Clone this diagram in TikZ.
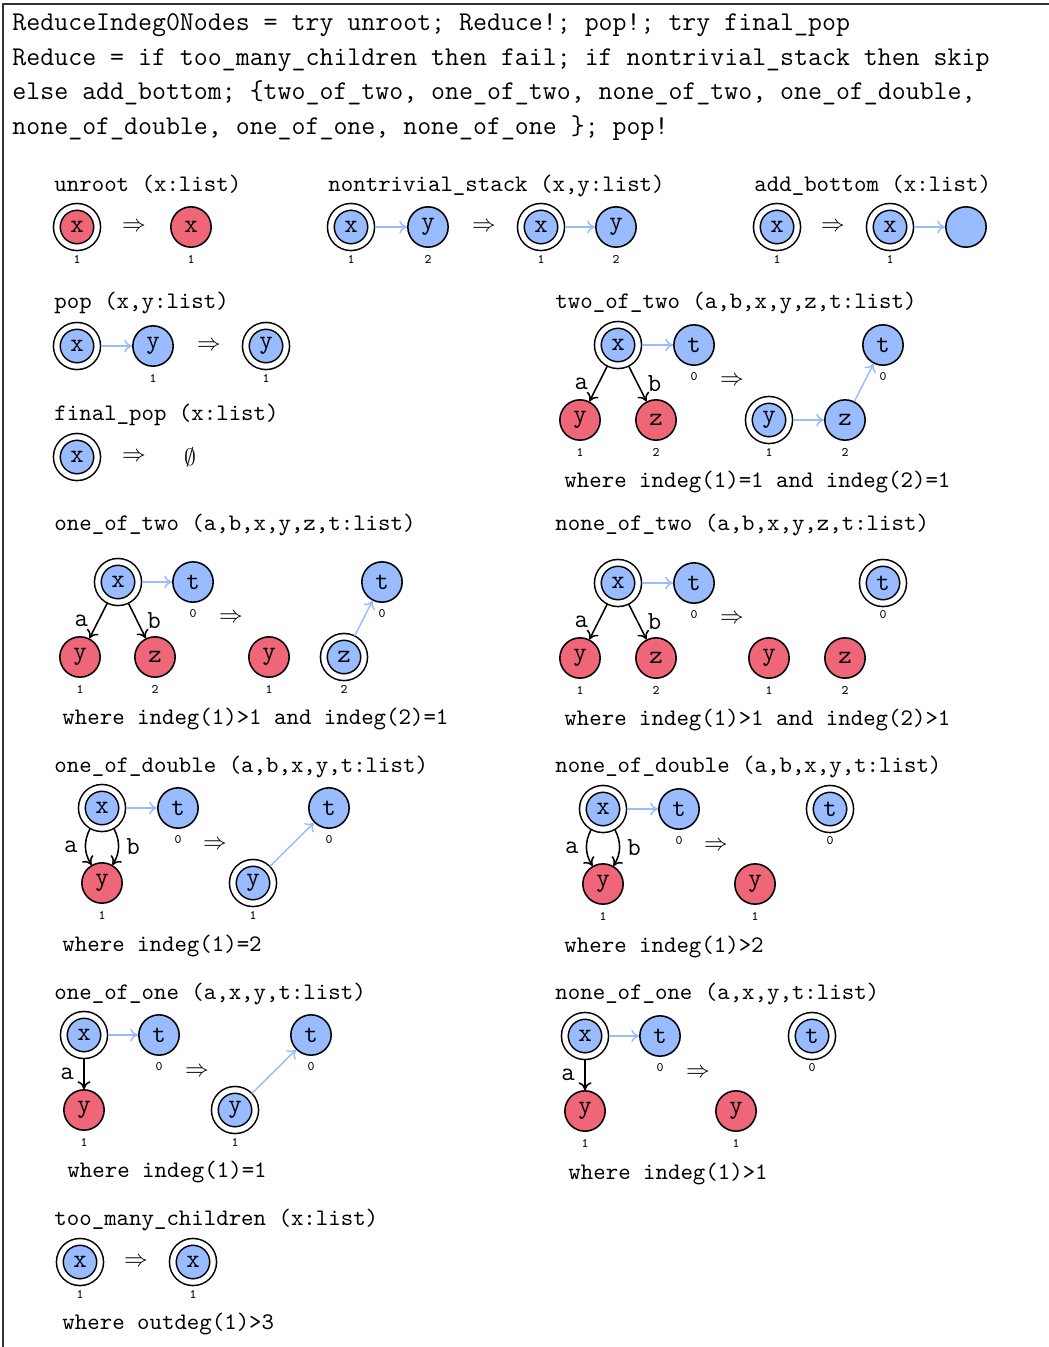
\documentclass[tikz,border=0pt]{standalone}
\usetikzlibrary{calc,arrows.meta}
\definecolor{nred}{RGB}{238,102,119}
\definecolor{nblue}{RGB}{153,187,255}
\frenchspacing
\tikzset{
 vx/.style={circle, draw=black, line width=0.65pt, minimum size=17pt, inner sep=0pt, font=\fontsize{11}{12}\selectfont\ttfamily},
 rd/.style={vx, fill=nred},
 bl/.style={vx, fill=nblue},
 dbl/.style={double=white, double distance=2.2pt, outer sep=1.5pt},
 idx/.style={font=\fontsize{5.5}{6}\selectfont\ttfamily, inner sep=0pt},
 ttl/.style={anchor=base west, inner sep=0pt, font=\fontsize{10}{12}\selectfont\ttfamily},
 toptxt/.style={anchor=base west, inner sep=0pt, font=\fontsize{11.43}{13}\selectfont\ttfamily},
 imp/.style={inner sep=0pt, font=\fontsize{10}{12}\selectfont},
 bedge/.style={-{To[length=3.3pt,width=5.5pt]}, draw=nblue, line width=0.6pt},
 kedge/.style={-{To[length=3.3pt,width=5.5pt]}, draw=black, line width=0.65pt},
 elab/.style={font=\fontsize{11}{12}\selectfont\ttfamily, inner sep=0pt},
}
\newcommand\idxlab[2]{\node[idx] (#1i) at ($(#1)+(0,32)$) {#2};}
\begin{document}
\begin{tikzpicture}[x=0.4217pt,y=-0.4217pt]
\useasboundingbox (0,0) rectangle (1049,1347);
\draw[black!80, line width=0.7pt] (3,1347) -- (3,4) -- (1049,4);

% top program text
\node[toptxt] (l1) at (12,30) {ReduceIndeg0Nodes = try unroot; Reduce!; pop!; try final\_pop};
\node[toptxt] (l2) at (12,65) {Reduce = if too\_many\_children then fail; if nontrivial\_stack then skip};
\node[toptxt] (l3) at (12,99.5) {else add\_bottom; \{two\_of\_two, one\_of\_two, none\_of\_two, one\_of\_double,};
\node[toptxt] (l4) at (12,134) {none\_of\_double, one\_of\_one, none\_of\_one \}; pop!};

% unroot
\node[ttl] (t1) at (54,191) {unroot (x:list)};
\node[rd,dbl] (u1) at (77,227) {x};
\node[imp] (u1a) at (134,227) {$\Rightarrow$};
\node[rd] (u2) at (191,227) {x};
\idxlab{u1}{1}\idxlab{u2}{1}

% nontrivial_stack
\node[ttl] (t2) at (328,191) {nontrivial\_stack (x,y:list)};
\node[bl,dbl] (n1) at (351,227) {x};
\node[bl] (n2) at (428,227) {y};
\draw[bedge] (n1) -- (n2);
\node[imp] (n2a) at (484,227) {$\Rightarrow$};
\node[bl,dbl] (n3) at (541,227) {x};
\node[bl] (n4) at (616,227) {y};
\draw[bedge] (n3) -- (n4);
\idxlab{n1}{1}\idxlab{n2}{2}\idxlab{n3}{1}\idxlab{n4}{2}

% add_bottom
\node[ttl] (t3) at (754,191) {add\_bottom (x:list)};
\node[bl,dbl] (a1) at (777,227) {x};
\node[imp] (a1a) at (833,227) {$\Rightarrow$};
\node[bl,dbl] (a2) at (890,227) {x};
\node[bl] (a3) at (966,227) {};
\draw[bedge] (a2) -- (a3);
\idxlab{a1}{1}\idxlab{a2}{1}

% pop
\node[ttl] (t4) at (54,308) {pop (x,y:list)};
\node[bl,dbl] (p1) at (77,346) {x};
\node[bl] (p2) at (153,346) {y};
\draw[bedge] (p1) -- (p2);
\node[imp] (p2a) at (209,346) {$\Rightarrow$};
\node[bl,dbl] (p3) at (266,346) {y};
\idxlab{p2}{1}\idxlab{p3}{1}

% final_pop
\node[ttl] (t5) at (54,420) {final\_pop (x:list)};
\node[bl,dbl] (f1) at (77,457) {x};
\node[imp] (f1a) at (134,457) {$\Rightarrow$};
\node[imp] (f2) at (190,457) {$\emptyset$};

% two_of_two
\node[ttl] (t6) at (555,308) {two\_of\_two (a,b,x,y,z,t:list)};
\node[bl,dbl] (w1) at (618,345) {x};
\node[bl] (w2) at (694,345) {t};
\node[rd] (w3) at (580,420) {y};
\node[rd] (w4) at (656,420) {z};
\draw[bedge] (w1) -- (w2);
\draw[kedge] (w1) -- node[elab,midway,left=4pt] {a} (w3);
\draw[kedge] (w1) -- node[elab,midway,right=4pt] {b} (w4);
\node[imp] (w4a) at (732,381) {$\Rightarrow$};
\node[bl,dbl] (w5) at (769,420) {y};
\node[bl] (w6) at (845,420) {z};
\node[bl] (w7) at (883,345) {t};
\draw[bedge] (w5) -- (w6);
\draw[bedge] (w6) -- (w7);
\idxlab{w2}{0}\idxlab{w3}{1}\idxlab{w4}{2}\idxlab{w5}{1}\idxlab{w6}{2}\idxlab{w7}{0}
\node[ttl] (c6) at (564,487) {where indeg(1)=1 and indeg(2)=1};

% one_of_two
\node[ttl] (t7) at (54,530) {one\_of\_two (a,b,x,y,z,t:list)};
\node[bl,dbl] (o1) at (118,582) {x};
\node[bl] (o2) at (193,582) {t};
\node[rd] (o3) at (80,657) {y};
\node[rd] (o4) at (155,657) {z};
\draw[bedge] (o1) -- (o2);
\draw[kedge] (o1) -- node[elab,midway,left=4pt] {a} (o3);
\draw[kedge] (o1) -- node[elab,midway,right=4pt] {b} (o4);
\node[imp] (o4a) at (231,618) {$\Rightarrow$};
\node[rd] (o5) at (269,657) {y};
\node[bl,dbl] (o6) at (344,657) {z};
\node[bl] (o7) at (382,582) {t};
\draw[bedge] (o6) -- (o7);
\idxlab{o2}{0}\idxlab{o3}{1}\idxlab{o4}{2}\idxlab{o5}{1}\idxlab{o6}{2}\idxlab{o7}{0}
\node[ttl] (c7) at (62,724) {where indeg(1)>1 and indeg(2)=1};

% none_of_two
\node[ttl] (t8) at (555,530) {none\_of\_two (a,b,x,y,z,t:list)};
\node[bl,dbl] (m1) at (618,583) {x};
\node[bl] (m2) at (694,583) {t};
\node[rd] (m3) at (580,658) {y};
\node[rd] (m4) at (656,658) {z};
\draw[bedge] (m1) -- (m2);
\draw[kedge] (m1) -- node[elab,midway,left=4pt] {a} (m3);
\draw[kedge] (m1) -- node[elab,midway,right=4pt] {b} (m4);
\node[imp] (m4a) at (732,619) {$\Rightarrow$};
\node[rd] (m5) at (769,658) {y};
\node[rd] (m6) at (845,658) {z};
\node[bl,dbl] (m7) at (883,583) {t};
\idxlab{m2}{0}\idxlab{m3}{1}\idxlab{m4}{2}\idxlab{m5}{1}\idxlab{m6}{2}\idxlab{m7}{0}
\node[ttl] (c8) at (564,725) {where indeg(1)>1 and indeg(2)>1};

% one_of_double
\node[ttl] (t9) at (54,772) {one\_of\_double (a,b,x,y,t:list)};
\node[bl,dbl] (d1) at (102,808) {x};
\node[bl] (d2) at (178,808) {t};
\node[rd] (d3) at (102,883) {y};
\draw[bedge] (d1) -- (d2);
\draw[kedge] (d1) to[bend right=30] node[elab,midway,left=3pt] {a} (d3);
\draw[kedge] (d1) to[bend left=30] node[elab,midway,right=3pt] {b} (d3);
\node[imp] (d3a) at (215,845) {$\Rightarrow$};
\node[bl,dbl] (d4) at (253,883) {y};
\node[bl] (d5) at (329,808) {t};
\draw[bedge] (d4) -- (d5);
\idxlab{d2}{0}\idxlab{d3}{1}\idxlab{d4}{1}\idxlab{d5}{0}
\node[ttl] (c9) at (62,951) {where indeg(1)=2};

% none_of_double
\node[ttl] (t10) at (555,772) {none\_of\_double (a,b,x,y,t:list)};
\node[bl,dbl] (e1) at (603,809) {x};
\node[bl] (e2) at (679,809) {t};
\node[rd] (e3) at (603,884) {y};
\draw[bedge] (e1) -- (e2);
\draw[kedge] (e1) to[bend right=30] node[elab,midway,left=3pt] {a} (e3);
\draw[kedge] (e1) to[bend left=30] node[elab,midway,right=3pt] {b} (e3);
\node[imp] (e3a) at (716,846) {$\Rightarrow$};
\node[rd] (e4) at (755,884) {y};
\node[bl,dbl] (e5) at (830,809) {t};
\idxlab{e2}{0}\idxlab{e3}{1}\idxlab{e4}{1}\idxlab{e5}{0}
\node[ttl] (c10) at (564,952) {where indeg(1)>2};

% one_of_one
\node[ttl] (t11) at (54,999) {one\_of\_one (a,x,y,t:list)};
\node[bl,dbl] (g1) at (84,1035) {x};
\node[bl] (g2) at (159,1035) {t};
\node[rd] (g3) at (84,1110) {y};
\draw[bedge] (g1) -- (g2);
\draw[kedge] (g1) -- node[elab,midway,left=4pt] {a} (g3);
\node[imp] (g3a) at (197,1072) {$\Rightarrow$};
\node[bl,dbl] (g4) at (235,1110) {y};
\node[bl] (g5) at (311,1035) {t};
\draw[bedge] (g4) -- (g5);
\idxlab{g2}{0}\idxlab{g3}{1}\idxlab{g4}{1}\idxlab{g5}{0}
\node[ttl] (c11) at (67,1177) {where indeg(1)=1};

% none_of_one
\node[ttl] (t12) at (555,999) {none\_of\_one (a,x,y,t:list)};
\node[bl,dbl] (h1) at (585,1036) {x};
\node[bl] (h2) at (660,1036) {t};
\node[rd] (h3) at (585,1111) {y};
\draw[bedge] (h1) -- (h2);
\draw[kedge] (h1) -- node[elab,midway,left=4pt] {a} (h3);
\node[imp] (h3a) at (698,1073) {$\Rightarrow$};
\node[rd] (h4) at (736,1111) {y};
\node[bl,dbl] (h5) at (812,1036) {t};
\idxlab{h2}{0}\idxlab{h3}{1}\idxlab{h4}{1}\idxlab{h5}{0}
\node[ttl] (c12) at (568,1179) {where indeg(1)>1};

% too_many_children
\node[ttl] (t13) at (54,1225) {too\_many\_children (x:list)};
\node[bl,dbl] (k1) at (80,1262) {x};
\node[imp] (k1a) at (136,1262) {$\Rightarrow$};
\node[bl,dbl] (k2) at (193,1262) {x};
\idxlab{k1}{1}\idxlab{k2}{1}
\node[ttl] (c13) at (62,1329) {where outdeg(1)>3};
\end{tikzpicture}
\end{document}
